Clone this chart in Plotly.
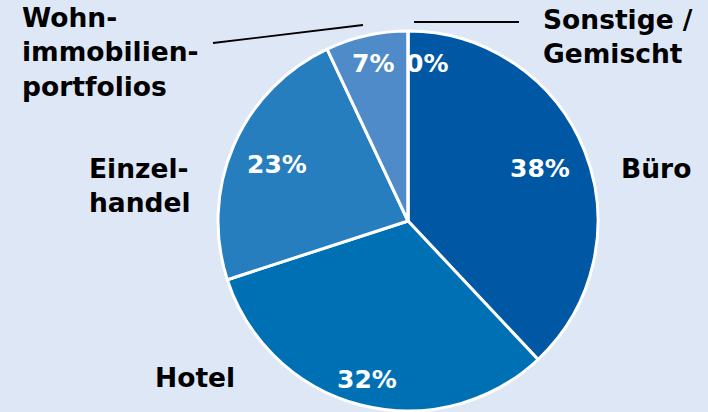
import math
import plotly.graph_objects as go

# Portfolio split by property type (percent)
categories = ["Büro", "Hotel", "Einzelhandel", "Wohnimmobilienportfolios", "Sonstige / Gemischt"]
shares = [38, 32, 23, 7, 0]
display_names = ["Büro", "Hotel", "Einzel-<br>handel", "Wohn-<br>immobilien-<br>portfolios", "Sonstige /<br>Gemischt"]
slice_colors = ["#0057A3", "#0070B4", "#277EBE", "#4F8BC8", "#2F6FB0"]

W, H = 708, 412
BG = "#DEE7F6"
CX, CY, R = 408, 221, 190   # pie centre and radius in pixels

FONT = "DejaVu Sans, Verdana, sans-serif"


def px(x):
    return x / W


def py(y):
    return 1 - y / H


fig = go.Figure(
    go.Pie(
        labels=categories,
        values=shares,
        sort=False,
        direction="clockwise",
        rotation=0,
        marker=dict(colors=slice_colors, line=dict(color="white", width=3)),
        textinfo="none",
        hoverinfo="label+percent",
        showlegend=False,
        domain=dict(x=[px(CX - R), px(CX + R)], y=[py(CY + R), py(CY - R)]),
    )
)

# Percentage labels placed along each slice's mid-angle
radial = [0.75, 0.86, 0.75, 0.85, 0.0]
annotations = []
total = sum(shares)
cum = 0
for i, v in enumerate(shares):
    mid = (cum + v / 2) / total * 360
    cum += v
    if v > 0:
        r = radial[i] * R
        x = CX + r * math.sin(math.radians(mid))
        y = CY - r * math.cos(math.radians(mid))
        annotations.append(dict(x=px(x), y=py(y), text=f"<b>{v}%</b>", showarrow=False,
                                xanchor="center", yanchor="middle",
                                font=dict(family=FONT, size=25, color="white")))
    else:
        annotations.append(dict(x=px(CX - 4), y=py(64), text=f"<b>{v}%</b>", showarrow=False,
                                xanchor="left", yanchor="middle",
                                font=dict(family=FONT, size=25, color="white")))

# Category labels around the pie
label_pos = [
    dict(x=656, y=168, xanchor="center", align="center"),
    dict(x=195, y=377, xanchor="center", align="center"),
    dict(x=87, y=185, xanchor="left", align="left"),
    dict(x=20, y=52, xanchor="left", align="left"),
    dict(x=541, y=37, xanchor="left", align="left"),
]
for name, p in zip(display_names, label_pos):
    annotations.append(dict(x=px(p["x"]), y=py(p["y"]), text=f"<b>{name}</b>", showarrow=False,
                            xanchor=p["xanchor"], yanchor="middle", align=p["align"],
                            font=dict(family=FONT, size=26.5, color="black")))

# Leader lines for the two small slices
shapes = [
    dict(type="line", xref="paper", yref="paper", x0=px(213), y0=py(43), x1=px(363), y1=py(25),
         line=dict(color="black", width=1.8)),
    dict(type="line", xref="paper", yref="paper", x0=px(414), y0=py(22), x1=px(519), y1=py(22),
         line=dict(color="black", width=1.8)),
]

fig.update_layout(
    width=W, height=H,
    margin=dict(l=0, r=0, t=0, b=0),
    paper_bgcolor=BG, plot_bgcolor=BG,
    annotations=annotations,
    shapes=shapes,
)

fig.write_html("out.html")
